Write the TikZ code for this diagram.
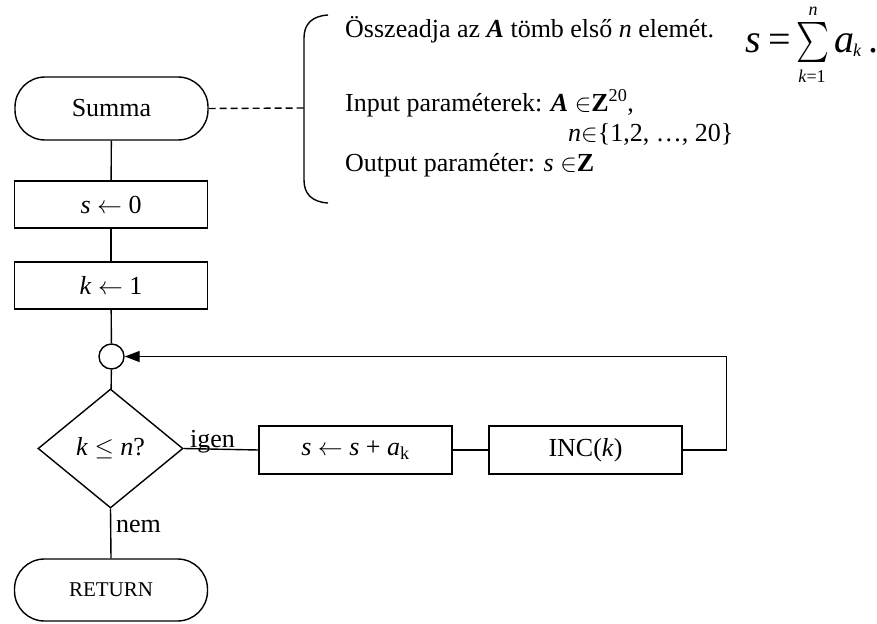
\documentclass[tikz,border=0pt]{standalone}
\usepackage{amsmath}
\usepackage{graphicx}
\usepackage{fontspec}
\setmainfont{Liberation Serif}
\usetikzlibrary{shapes.geometric,arrows.meta}
\tikzset{
  base/.style={draw, line width=1.4pt, inner sep=0pt, font=\fontsize{26}{30}\selectfont},
  term/.style={base, rectangle, rounded corners=30pt, minimum width=193pt, minimum height=63pt},
  procbox/.style={base, rectangle, minimum width=193pt, minimum height=48pt},
  decide/.style={base, diamond, minimum width=145pt, minimum height=119pt},
  joint/.style={base, circle, minimum size=25pt},
  conn/.style={line width=1.4pt},
  lbl/.style={font=\fontsize{26}{30}\selectfont, inner sep=0pt},
  big/.style={font=\fontsize{40}{46}\selectfont, inner sep=0pt, anchor=base west},
  lim/.style={font=\fontsize{18}{20}\selectfont, inner sep=0pt},
}
\begin{document}
\begin{tikzpicture}[x=1pt,y=-1pt]
\useasboundingbox (0,0) rectangle (877,623);
% nodes
\node[term] (summa) at (111.5,108.5) {Summa};
\node[procbox, minimum height=47pt] (s0) at (111,204.5) {\textit{s} $\leftarrow$ 0};
\node[procbox, minimum height=47pt] (k1) at (111,285.5) {\textit{k} $\leftarrow$ 1};
\node[joint] (circ) at (111.5,356.5) {};
\node[decide] (cond) at (110.5,448.5) {\textit{k} $\leq$ \textit{n}?};
\node[procbox] (add) at (355.5,450) {\textit{s} $\leftarrow$ \textit{s} + \textit{a}\textsubscript{k}};
\node[procbox] (inc) at (585.5,450) {INC(\textit{k})};
\node[term, minimum height=62pt, font=\fontsize{21}{25}\selectfont] (ret) at (111,590) {RETURN};
% labels
\node[lbl, anchor=base west] (igen) at (190,447) {igen};
\node[lbl, anchor=base west] (nem) at (116,532) {nem};
% connectors
\draw[conn] (summa) -- (s0);
\draw[conn] (s0) -- (k1);
\draw[conn] (k1) -- (circ);
\draw[conn] (circ) -- (cond);
\draw[conn] (cond.east) -- (add.west);
\draw[conn] (add) -- (inc);
\draw[conn, -{Triangle[length=15pt,width=11pt]}] (inc.east) -- ++(44,0) |- (circ.east);
\draw[conn] (cond.south) -- (ret.north);
% comment brace
\coordinate (bmid) at (304,108);
\draw[conn, dash pattern=on 7pt off 4pt] (summa.east) -- (bmid);
\draw[conn] (328,15) .. controls (312,16) and (304,24) .. (304,38) -- (304,180) .. controls (304,194) and (312,202) .. (328,203);
% comment text
\node[lbl, anchor=base west] (t1) at (345,38) {Összeadja az \textbf{\textit{A}} tömb első \textit{n} elemét.};
\node[lbl, anchor=base west] (t2) at (345,111) {Input paraméterek: \textbf{\textit{A}} $\in$\textbf{Z}\textsuperscript{20},};
\node[lbl, anchor=base west] (t3) at (568,141) {\textit{n}$\in$\{1,2, …, 20\}};
\node[lbl, anchor=base west] (t4) at (345,171) {Output paraméter: \textit{s} $\in$\textbf{Z}};
% sum formula
\node[big] (fs) at (745,53) {\textit{s}};
\node[big] (feq) at (768,53) {=};
\node[inner sep=0pt] (fsig) at (813,43) {\resizebox*{33pt}{40pt}{$\sum$}};
\node[lim, anchor=base, text height=9pt, text depth=0pt] (fn) at (813,16) {\textit{n}};
\node[lim, text height=13pt, text depth=0pt] (fk) at (812,76) {\textit{k}=1};
\node[big] (fa) at (834,53) {\textit{a}};
\node[lim, anchor=base west] (fak) at (853,57) {\textit{k}};
\node[big] (fdot) at (868,53) {.};
\end{tikzpicture}
\end{document}
